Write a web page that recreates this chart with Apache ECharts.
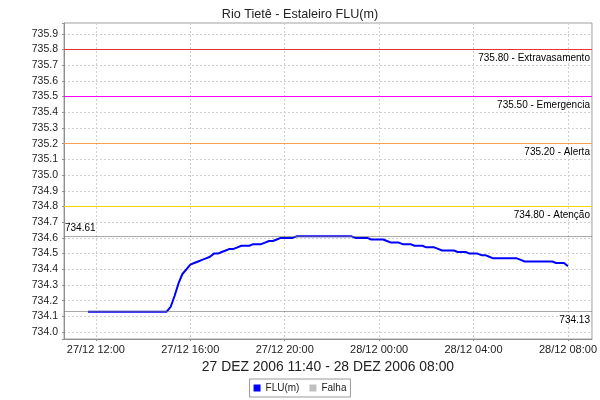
<!DOCTYPE html>
<html>
<head>
<meta charset="utf-8">
<script src="https://cdn.jsdelivr.net/npm/echarts@6/dist/echarts.min.js"></script>
<style>html,body{margin:0;padding:0;background:#fff}#c{width:600px;height:400px}</style>
</head>
<body>
<div id="c"></div>
<script>
// ---- data (10-minute readings starting 27/12/2006 11:40) ----
const startTime = [2006, 11, 27, 11, 40]; // year, month(0-based), day, hour, minute
const stepMinutes = 10;
const fluValues = [
  734.13,734.13,734.13,734.13,734.13,734.13,734.13,734.13,734.13,734.13,
  734.13,734.13,734.13,734.13,734.13,734.13,734.13,734.13,734.13,734.13,734.13,
  734.16,734.23,734.31,734.37,734.40,
  734.43,734.44,734.45,734.46,734.47,734.48,
  734.50,734.50,734.51,734.52,734.53,734.53,
  734.54,734.55,734.55,734.55,734.56,734.56,
  734.56,734.57,734.58,734.58,734.59,734.60,
  734.60,734.60,734.60,
  734.61,734.61,734.61,734.61,734.61,734.61,734.61,734.61,734.61,734.61,734.61,734.61,734.61,734.61,734.61,
  734.60,734.60,734.60,734.60,734.59,734.59,
  734.59,734.59,734.58,734.57,734.57,734.57,
  734.56,734.56,734.56,734.55,734.55,734.55,
  734.54,734.54,734.54,734.53,734.52,734.52,
  734.52,734.52,734.51,734.51,734.51,734.50,
  734.50,734.50,734.49,734.49,734.48,734.47,
  734.47,734.47,734.47,734.47,734.47,734.47,
  734.46,734.45,734.45,734.45,734.45,734.45,
  734.45,734.45,734.45,734.44,734.44,734.44,
  734.42
];
const falhaValues = [];
const markerLevels = [735.80, 735.50, 735.20, 734.80];
const markerNames = ['Extravasamento', 'Emergencia', 'Alerta', 'Atenção'];
const markerColors = ['#f03030', '#ff00ff', '#f5a050', '#f5d800'];
const titleText = 'Rio Tietê - Estaleiro FLU(m)';
const xAxisTitle = '27 DEZ 2006 11:40 - 28 DEZ 2006 08:00';
const yMin = 733.95605, yMax = 735.96879;
const axisMin = new Date(2006, 11, 27, 10, 39).getTime();
const axisMax = new Date(2006, 11, 28, 9, 1).getTime();

const fluData = fluValues.map((v, i) => [
  new Date(startTime[0], startTime[1], startTime[2], startTime[3], startTime[4] + i * stepMinutes).getTime(), v
]);
const maxVal = Math.max(...fluValues), minVal = Math.min(...fluValues);

const pad = n => (n < 10 ? '0' : '') + n;
const FONT = 'Liberation Sans';

const markData = markerLevels.map((lv, i) => ({
  yAxis: lv,
  lineStyle: { color: markerColors[i], width: 1, type: 'solid' },
  label: { formatter: lv.toFixed(2) + ' - ' + markerNames[i], position: 'insideEndBottom', distance: [2, 4], color: '#000' }
}));
markData.push({
  yAxis: maxVal,
  lineStyle: { color: 'rgba(112,112,112,0.6)', width: 1, type: 'solid' },
  label: { formatter: maxVal.toFixed(2), position: 'insideStartTop', distance: [1, 3], color: '#000' }
});
markData.push({
  yAxis: minVal,
  lineStyle: { color: 'rgba(112,112,112,0.6)', width: 1, type: 'solid' },
  label: { formatter: minVal.toFixed(2), position: 'insideEndBottom', distance: [2, 4], color: '#000' }
});

const chart = echarts.init(document.getElementById('c'), null, { renderer: 'canvas' });
chart.setOption({
  animation: false,
  backgroundColor: '#ffffff',
  textStyle: { fontFamily: FONT },
  title: {
    text: titleText, left: 'center', top: 3,
    textStyle: { fontFamily: FONT, fontSize: 12.6, fontWeight: 'normal', color: '#222' }
  },
  legend: {
    bottom: 3, left: 'center',
    data: ['FLU(m)', 'Falha'],
    icon: 'rect', itemWidth: 7, itemHeight: 7, itemGap: 10,
    borderColor: '#999', borderWidth: 1, padding: [4, 4],
    textStyle: { fontFamily: FONT, fontSize: 10, color: '#222' }
  },
  grid: { left: 64, right: 7, top: 23, height: 316, containLabel: false, show: true, borderColor: '#a0a0a0', borderWidth: 1 },
  xAxis: {
    type: 'time', min: axisMin, max: axisMax, splitNumber: 5,
    name: xAxisTitle, nameLocation: 'middle', nameGap: 19,
    nameTextStyle: { fontFamily: FONT, fontSize: 13.9, color: '#222' },
    axisLine: { lineStyle: { color: '#909090' } },
    axisTick: { show: true, length: 2, lineStyle: { color: '#909090' } },
    minorTick: { show: false },
    axisLabel: {
      margin: 5, fontFamily: FONT, fontSize: 11, color: '#222',
      showMinLabel: false, showMaxLabel: false,
      formatter: function (val) {
        const d = new Date(val);
        return pad(d.getDate()) + '/' + pad(d.getMonth() + 1) + ' ' + pad(d.getHours()) + ':' + pad(d.getMinutes());
      },
      rich: {}
    },
    splitLine: { show: true, lineStyle: { color: '#d0d0d0', type: [2, 2], width: 1 } }
  },
  yAxis: {
    type: 'value', min: yMin, max: yMax, splitNumber: 20, minInterval: 0.1, maxInterval: 0.1,
    axisLine: { show: true, lineStyle: { color: '#909090' } },
    axisTick: { show: true, length: 2, lineStyle: { color: '#909090' } },
    axisLabel: {
      margin: 6, fontFamily: FONT, fontSize: 10.5, color: '#222',
      formatter: function (v) {
        if (Math.abs(v * 10 - Math.round(v * 10)) > 1e-6) return '';
        return v.toFixed(1);
      }
    },
    splitLine: { show: true, lineStyle: { color: '#d0d0d0', type: [2, 2], width: 1 } }
  },
  series: [
    {
      name: 'FLU(m)', type: 'line', data: fluData, showSymbol: false, symbol: 'none',
      itemStyle: { color: '#0000ff' }, lineStyle: { color: '#0000ff', width: 2 },
      markLine: {
        silent: true, symbol: ['none', 'none'], animation: false,
        label: { fontFamily: FONT, fontSize: 10, color: '#000' },
        data: markData
      }
    },
    {
      name: 'Falha', type: 'line', data: falhaValues, showSymbol: false,
      itemStyle: { color: '#c0c0c0' }, lineStyle: { color: '#c0c0c0' }
    }
  ]
});
</script>
</body>
</html>
